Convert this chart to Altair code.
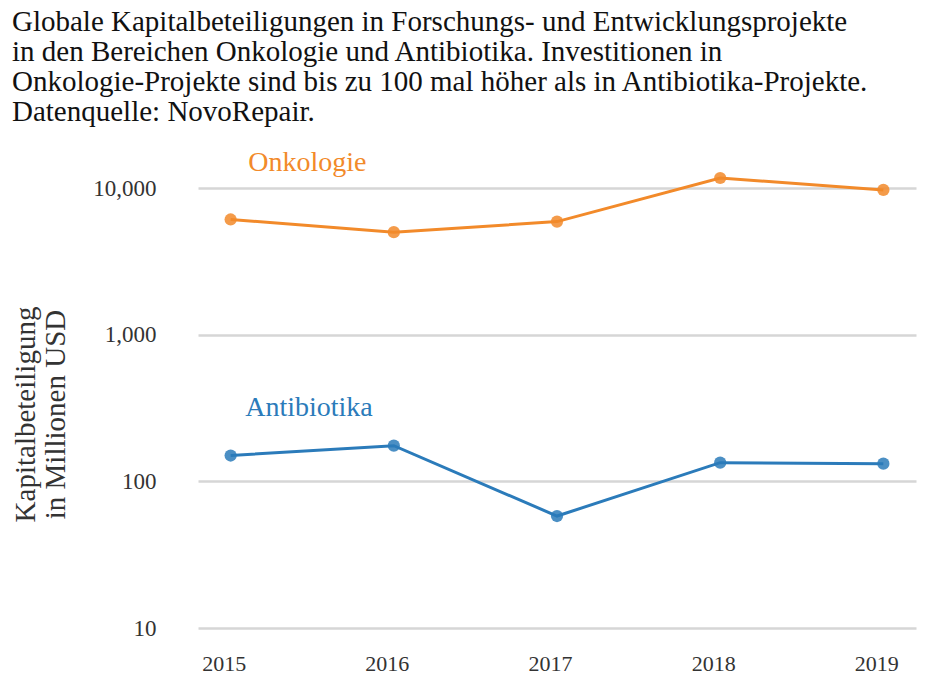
import altair as alt
import pandas as pd

years = [2015, 2016, 2017, 2018, 2019]
onkologie = [6100, 5000, 5900, 11700, 9700]
antibiotika = [150, 175, 58, 134, 132]
series_names = ["Onkologie", "Antibiotika"]
colors = ["#F28A2A", "#2B7BBA"]
y_ticks = [10, 100, 1000, 10000]

title_lines = [
    "Globale Kapitalbeteiligungen in Forschungs- und Entwicklungsprojekte",
    "in den Bereichen Onkologie und Antibiotika. Investitionen in",
    "Onkologie-Projekte sind bis zu 100 mal höher als in Antibiotika-Projekte.",
    "Datenquelle: NovoRepair.",
]

rows = []
for y, v in zip(years, onkologie):
    rows.append({"Jahr": y, "Wert": v, "Bereich": "Onkologie"})
for y, v in zip(years, antibiotika):
    rows.append({"Jahr": y, "Wert": v, "Bereich": "Antibiotika"})
df = pd.DataFrame(rows)

labels = pd.DataFrame({
    "Bereich": series_names,
    "Jahr": [2015.47, 2015.48],
    "Wert": [14800, 318],
})

FONT = "Liberation Serif"

x = alt.X("Jahr:Q",
          scale=alt.Scale(domain=[2014.8, 2019.2], nice=False, zero=False),
          axis=alt.Axis(values=years, format="d", grid=False, ticks=False, domain=False,
                        labelFontSize=22, labelColor="#333333", labelPadding=25,
                        labelOffset=-7, title=None, labelFont=FONT))
y = alt.Y("Wert:Q",
          scale=alt.Scale(type="log", domain=[10, 10000], nice=False),
          axis=alt.Axis(values=y_ticks, format=",", ticks=False, domain=False,
                        grid=True, gridColor="#D6D6D6", gridWidth=2.5,
                        labelFontSize=23, labelColor="#333333", labelPadding=42,
                        labelFont=FONT,
                        title=["Kapitalbeteiligung", "in Millionen USD"],
                        titleFont=FONT, titleFontSize=29, titleFontWeight="normal",
                        titleColor="#333333", titleX=-187, titleY=226,
                        titleBaseline="top", titleLineHeight=30))
color = alt.Color("Bereich:N", scale=alt.Scale(domain=series_names, range=colors), legend=None)

lines = alt.Chart(df).mark_line(strokeWidth=3).encode(x=x, y=y, color=color, detail="Bereich:N")
points = alt.Chart(df).mark_circle(size=150, opacity=0.85).encode(x=x, y=y, color=color)
text = alt.Chart(labels).mark_text(fontSize=28, font=FONT, align="center", baseline="middle").encode(
    x=x, y=y, text="Bereich:N", color=color)

chart = alt.layer(lines, points, text).properties(
    width=718, height=440,
    autosize=alt.AutoSizeParams(type="none"),
    padding={"left": 190, "top": 180, "right": 6, "bottom": 56},
    title=alt.TitleParams(text=title_lines, anchor="start", frame="group", dx=-186,
                          font=FONT, fontSize=29, fontWeight="normal", color="#111111",
                          lineHeight=30, offset=22),
).configure_view(stroke=None)

chart.save("out.html", embed_options={"renderer": "svg", "actions": False})
